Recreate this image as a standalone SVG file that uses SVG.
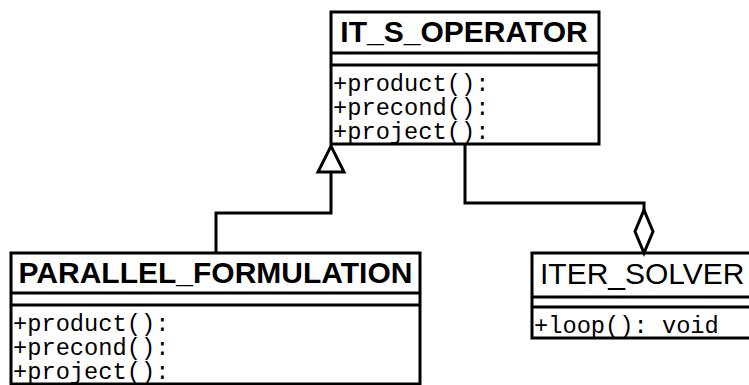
<svg xmlns="http://www.w3.org/2000/svg" width="749" height="385" viewBox="0 0 749 385">
<style>
.box{fill:#fff;stroke:#000;stroke-width:3}
.div{stroke:#000;stroke-width:3}
.title{font-family:"Liberation Sans",Arial,sans-serif;font-size:30px;font-weight:bold;fill:#000}
.title2{font-family:"Liberation Sans",Arial,sans-serif;font-size:30px;fill:#000}
.m{font-family:"Liberation Mono","Courier New",monospace;font-size:23.7px;fill:#000}
.c{fill:none;stroke:#000;stroke-width:3}
.head{fill:#fff;stroke:#000;stroke-width:3}
</style>
<rect width="749" height="385" fill="#fff"/>
<g id="it_s_operator">
<rect class="box" x="331" y="12" width="268" height="132"/>
<line class="div" x1="331" y1="53" x2="599" y2="53"/>
<line class="div" x1="331" y1="65" x2="599" y2="65"/>
<text class="title" x="464" y="42" text-anchor="middle">IT_S_OPERATOR</text>
<text class="m" x="333" y="91">+product():</text>
<text class="m" x="333" y="115">+precond():</text>
<text class="m" x="333" y="139">+project():</text>
</g>
<g id="parallel_formulation">
<rect class="box" x="11" y="253" width="409" height="131"/>
<line class="div" x1="11" y1="293" x2="420" y2="293"/>
<line class="div" x1="11" y1="305" x2="420" y2="305"/>
<text class="title" x="215.5" y="283" text-anchor="middle">PARALLEL_FORMULATION</text>
<text class="m" x="13" y="331">+product():</text>
<text class="m" x="13" y="355">+precond():</text>
<text class="m" x="13" y="379">+project():</text>
</g>
<g id="iter_solver">
<rect class="box" x="532" y="253" width="230" height="85"/>
<line class="div" x1="532" y1="297" x2="762" y2="297"/>
<line class="div" x1="532" y1="307" x2="762" y2="307"/>
<text class="title2" x="540" y="284">ITER_SOLVER</text>
<text class="m" x="534" y="333">+loop(): void</text>
</g>
<g id="connectors">
<path class="c" d="M216,253 V213 H331 V172"/>
<polygon class="head" points="318,172 344,172 331,146"/>
<path class="c" d="M465,144 V203 H644 V210"/>
<polygon class="head" points="644,210 653,231.5 644,253 635,231.5"/>
</g>
</svg>
